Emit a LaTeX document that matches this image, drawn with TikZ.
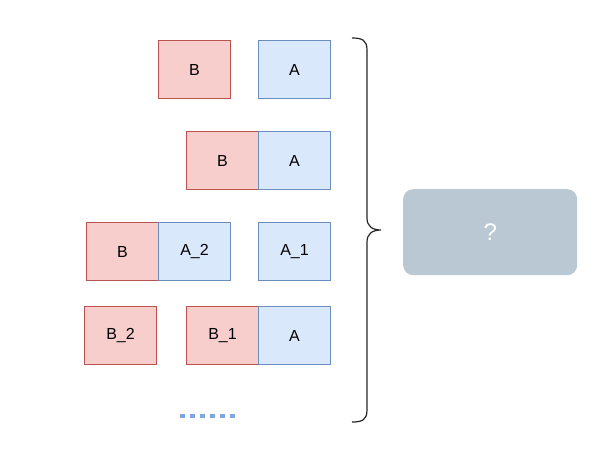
\documentclass[tikz,border=0pt]{standalone}
\usepackage{fontspec}
\setmainfont{Liberation Sans}
\definecolor{rfill}{HTML}{F8CECC}
\definecolor{rdraw}{HTML}{B85450}
\definecolor{bfill}{HTML}{DAE8FC}
\definecolor{bdraw}{HTML}{6C8EBF}
\definecolor{gfill}{HTML}{BAC8D3}
\definecolor{dotc}{HTML}{7EA6E0}
\begin{document}
\begin{tikzpicture}[x=1pt,y=-1pt,
  box/.style={minimum width=72pt,minimum height=58pt,inner sep=0pt,line width=1pt,font=\fontsize{16}{18}\selectfont,anchor=north west},
  rbox/.style={box,fill=rfill,draw=rdraw},
  bbox/.style={box,fill=bfill,draw=bdraw}]
\useasboundingbox (0,0) rectangle (602,456);
\node[rbox] (b1) at (158,40) {B};
\node[bbox] (a1) at (258,40) {A};
\node[rbox] (b2) at (186,131) {B};
\node[bbox] (a2) at (258,131) {A};
\node[rbox] (b3) at (86,222) {B};
\node[bbox] (a32) at (158,222) {A\_2};
\node[bbox] (a31) at (258,222) {A\_1};
\node[rbox] (b42) at (84,306) {B\_2};
\node[rbox] (b41) at (186,306) {B\_1};
\node[bbox] (a4) at (258,306) {A};
\coordinate (d1) at (180,416);
\coordinate (d2) at (239,416);
\draw[dotc,line width=4pt,dash pattern=on 5pt off 5pt] (d1) -- (d2);
\coordinate (tip) at (381,230);
\draw[line width=1.2pt,black!85] (352,38) .. controls (362,38) and (367,40) .. (367,50) -- (367,218) .. controls (367,226) and (372,230) .. (tip) .. controls (372,230) and (367,234) .. (367,242) -- (367,410) .. controls (367,420) and (362,422) .. (352,422);
\node[fill=gfill,rounded corners=10pt,minimum width=174pt,minimum height=86pt,anchor=north west,text=white,font=\fontsize{24}{28}\selectfont] (q) at (403,189) {?};
\end{tikzpicture}
\end{document}
